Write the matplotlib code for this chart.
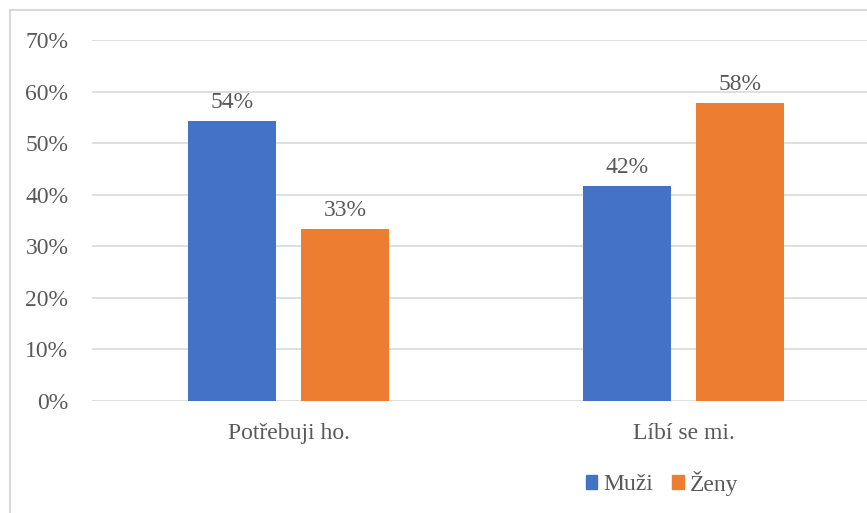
import matplotlib.pyplot as plt
from matplotlib.patches import Rectangle, Patch
from matplotlib.ticker import PercentFormatter

plt.rcParams['font.family'] = ['Liberation Serif', 'DejaVu Serif']

categories = ["Potřebuji ho.", "Líbí se mi."]
muzi = [0.542, 0.417]
zeny = [0.333, 0.577]
muzi_labels = ["54%", "42%"]
zeny_labels = ["33%", "58%"]

blue = "#4472C4"
orange = "#ED7D31"
txt = "#595959"
fs = 17

fig = plt.figure(figsize=(8.67, 5.13), dpi=100)
ax = fig.add_axes([92 / 867, 112 / 513, 775 / 867, 361 / 513])

x = list(range(len(categories)))
off = 0.143
w = 0.223
b1 = ax.bar([i - off for i in x], muzi, w, color=blue, zorder=3, label="Muži")
b2 = ax.bar([i + off for i in x], zeny, w, color=orange, zorder=3, label="Ženy")

for bars, labs in [(b1, muzi_labels), (b2, zeny_labels)]:
    for r, lab in zip(bars, labs):
        ax.text(r.get_x() + r.get_width() / 2, r.get_height() + 0.016, lab,
                ha="center", va="bottom", fontsize=fs, color=txt)

ax.set_xlim(-0.4975, 1.4646)
ax.set_ylim(0, 0.70)
ax.set_yticks([i / 10 for i in range(8)])
ax.yaxis.set_major_formatter(PercentFormatter(1.0, decimals=0))
ax.set_xticks(x)
ax.set_xticklabels(categories)
ax.grid(axis="y", color="#D9D9D9", linewidth=1.2, zorder=0)
for s in ax.spines.values():
    s.set_visible(False)
ax.tick_params(axis="both", length=0, labelsize=fs, labelcolor=txt)
ax.tick_params(axis="y", pad=17)
ax.tick_params(axis="x", pad=16)

handles = [Patch(color=blue, label="Muži"), Patch(color=orange, label="Ženy")]
fig.legend(handles=handles, loc="center", bbox_to_anchor=(662 / 867, 1 - 483 / 513),
           ncol=2, frameon=False, fontsize=fs, labelcolor=txt,
           handlelength=0.5, handleheight=0.5, handletextpad=0.25, columnspacing=0.8)

fig.patches.append(Rectangle((10 / 867, -0.1), 1.2, 1 - 10 / 513 + 0.1,
                             transform=fig.transFigure, fill=False,
                             edgecolor="#D9D9D9", linewidth=1.5))

fig.savefig("out.png", dpi=100)
